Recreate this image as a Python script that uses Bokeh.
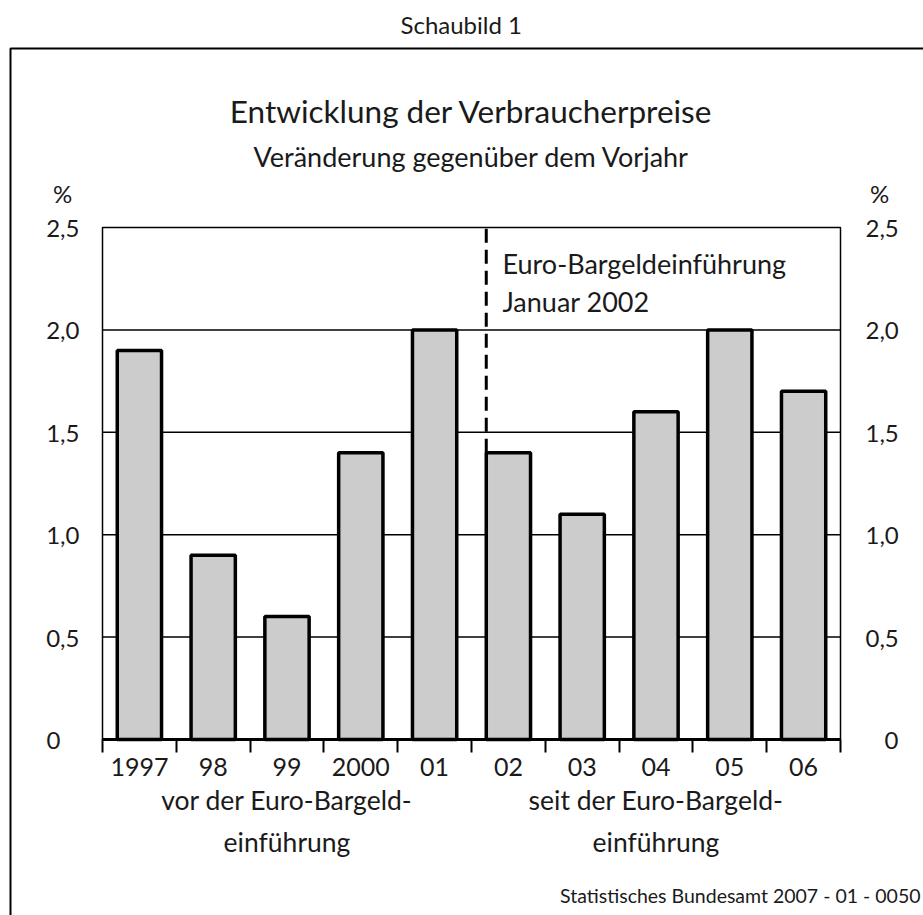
from bokeh.plotting import figure
from bokeh.models import Range1d, FixedTicker, LinearAxis, Label, Title
from bokeh.embed import file_html
from bokeh.resources import INLINE

# ---- data ----
years = ["1997", "98", "99", "2000", "01", "02", "03", "04", "05", "06"]
values = [1.9, 0.9, 0.6, 1.4, 2.0, 1.4, 1.1, 1.6, 2.0, 1.7]
y_ticks = [0, 0.5, 1.0, 1.5, 2.0, 2.5]
y_tick_labels = ["0", "0,5", "1,0", "1,5", "2,0", "2,5"]
grid_ticks = [0.5, 1.0, 1.5, 2.0]
group_before = ["vor der Euro-Bargeld-", "einführung"]
group_after = ["seit der Euro-Bargeld-", "einführung"]
euro_index = 5
annotation = ["Euro-Bargeldeinführung", "Januar 2002"]
header = "Schaubild 1"
title = "Entwicklung der Verbraucherpreise"
subtitle = "Veränderung gegenüber dem Vorjahr"
unit = "%"
source_note = "Statistisches Bundesamt 2007 - 01 - 0050"

# ---- layout / styles ----
FONT = "Lato"
TXT = "#1a1a1a"
BAR_W = 0.6
n = len(years)
xc = [i + 0.5 for i in range(n)]
YMAX = y_ticks[-1]

W, H = 923, 915
FL, FT = 8, 46                       # frame (outer box area) left / top, px
CL, CT, CR, CB = 102, 227, 840, 739  # chart box, px
SX = (CR - CL) / n
SY = (CB - CT) / YMAX

def dx(px):
    return (px - CL) / SX

def dy(py):
    return (CB - py) / SY

p = figure(width=W, height=H, x_range=Range1d(dx(FL), dx(W)), y_range=Range1d(dy(H), dy(FT)),
           output_backend="svg", toolbar_location=None, title=None,
           min_border_left=FL, min_border_right=0, min_border_top=FT, min_border_bottom=0)
p.background_fill_color = "white"
p.border_fill_color = "white"
p.outline_line_color = None
p.grid.visible = False

# outer frame box: only its left and top edges lie inside the picture
p.line(x=[dx(10), dx(10), dx(W) + 1], y=[dy(H) - 1, dy(48), dy(48)],
       line_color="black", line_width=2)

# grid lines inside the chart box
p.segment(x0=[0] * len(grid_ticks), x1=[n] * len(grid_ticks), y0=grid_ticks, y1=grid_ticks,
          line_color="black", line_width=1.5)

# bars
p.vbar(x=xc, top=values, width=BAR_W, bottom=0, fill_color="#cccccc",
       line_color="black", line_width=3.5)

# chart box outline
p.quad(left=[0], right=[n], bottom=[0], top=[YMAX], fill_color=None,
       line_color="black", line_width=1.5)

# dashed marker at the start of the euro cash era
ex = xc[euro_index] - BAR_W / 2
p.segment(x0=[ex], y0=[values[euro_index]], x1=[ex], y1=[YMAX],
          line_color="black", line_width=3, line_dash="14 7")

# x axis (fixed at y = 0)
xa = p.xaxis[0]
xa.fixed_location = 0
xa.bounds = (0, n)
xa.ticker = FixedTicker(ticks=xc, minor_ticks=list(range(n + 1)))
xa.major_label_overrides = {float(x): y for x, y in zip(xc, years)}
xa.major_tick_line_color = None
xa.major_tick_out = 0
xa.major_tick_in = 0
xa.minor_tick_line_color = "black"
xa.minor_tick_line_width = 2
xa.minor_tick_out = 13
xa.minor_tick_in = 0
xa.axis_line_width = 3
xa.axis_line_color = "black"
xa.major_label_standoff = 5
xa.major_label_text_font = FONT
xa.major_label_text_font_size = "25px"
xa.major_label_text_color = TXT

# labels sit flush to the outer edge, as in the original: a lone "0"
# is padded with a punctuation space and a figure space (width of ",d")
left_labels = [s if "," in s else s + "\u2008\u2007" for s in y_tick_labels]
right_labels = [s if "," in s else "\u2007\u2008" + s for s in y_tick_labels]

def style_y(ax, loc, standoff, labels):
    ax.fixed_location = loc
    ax.bounds = (0, YMAX)
    ax.ticker = FixedTicker(ticks=y_ticks)
    ax.major_label_overrides = {float(t): s for t, s in zip(y_ticks, labels)}
    ax.axis_line_color = None
    ax.major_tick_line_color = None
    ax.major_tick_out = 0
    ax.major_tick_in = 0
    ax.minor_tick_line_color = None
    ax.major_label_standoff = standoff
    ax.major_label_text_font = FONT
    ax.major_label_text_font_size = "24px"
    ax.major_label_text_color = TXT

style_y(p.yaxis[0], 0, 23, left_labels)
ra = LinearAxis()
style_y(ra, n, 25, right_labels)
p.add_layout(ra, "right")

# header above the box
p.add_layout(Title(text=header, text_font=FONT, text_font_size="24px", text_color=TXT,
                   text_font_style="normal", align="left", offset=400 - FL, standoff=15), "above")

def lab(text, x, y_px, size, align="center"):
    # y_px: wanted baseline in pixels, corrected for the renderer's text offset
    y = dy(y_px - 0.38 * size)
    p.add_layout(Label(x=x, y=y, text=text, text_font=FONT, text_font_size=f"{size}px",
                       text_color=TXT, text_align=align, text_baseline="alphabetic"))

lab(title, n / 2, 122, 31.5)
lab(subtitle, n / 2, 166, 27)
lab(unit, dx(62), 202, 24)
lab(unit, dx(879), 202, 24)
lab(annotation[0], ex + 0.22, 273, 27, align="left")
lab(annotation[1], ex + 0.22, 311, 27, align="left")
lab(group_before[0], euro_index / 2, 810, 26.5)
lab(group_before[1], euro_index / 2, 852, 26.5)
lab(group_after[0], (euro_index + n) / 2, 810, 26.5)
lab(group_after[1], (euro_index + n) / 2, 852, 26.5)
lab(source_note, dx(920), 902, 19.5, align="right")

open("out.html", "w").write(file_html(p, INLINE))
